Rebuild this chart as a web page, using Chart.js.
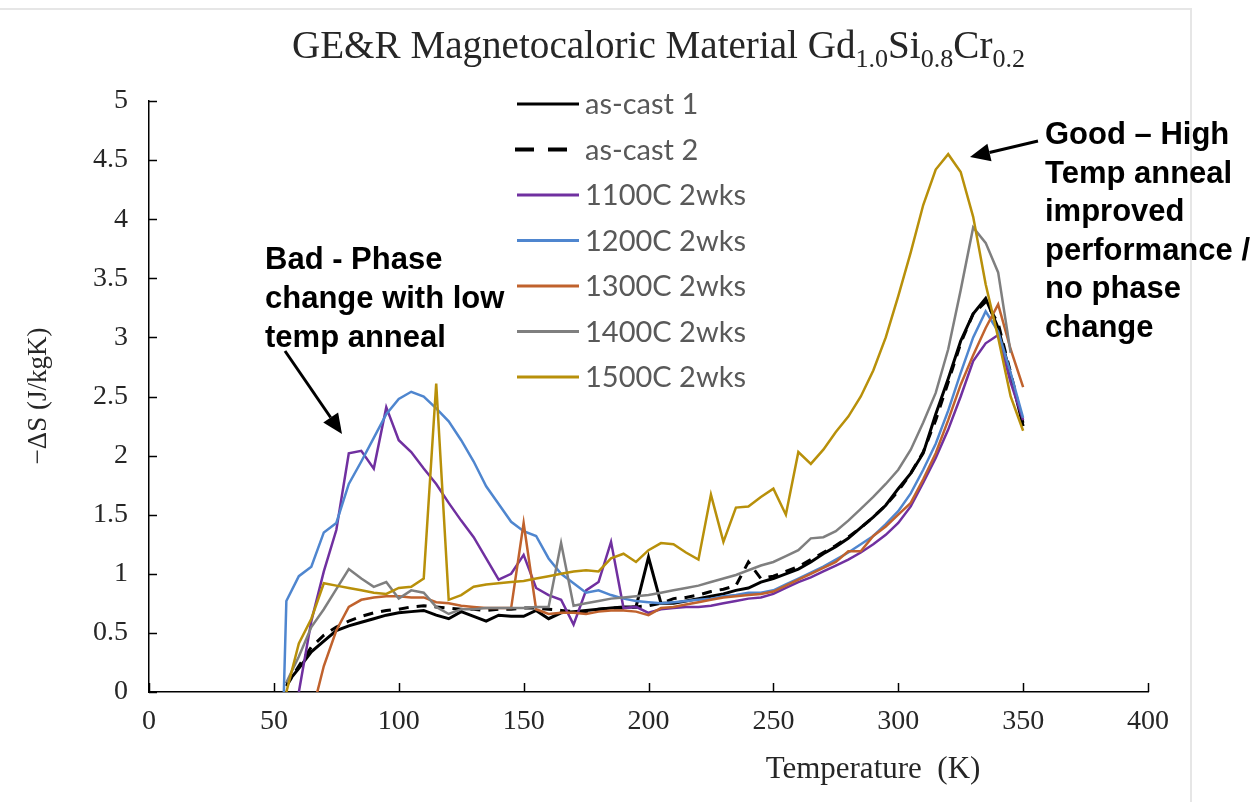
<!DOCTYPE html>
<html>
<head>
<meta charset="utf-8">
<script src="https://cdn.jsdelivr.net/npm/chart.js@4.4.0/dist/chart.umd.min.js"></script>
<style>
  html, body { margin: 0; padding: 0; background: #fff; }
  #wrap { position: relative; width: 1257px; height: 802px; }
  #frame { position: absolute; left: 0; top: 8px; width: 1192px; height: 794px; box-sizing: border-box;
           border-top: 2px solid #e6e6e6; border-right: 2px solid #e6e6e6; }
  canvas { position: absolute; left: 0; top: 0; }
</style>
</head>
<body>
<div id="wrap">
  <div id="frame"></div>
  <canvas id="mcChart" width="1257" height="802"></canvas>
</div>
<script>
// temperatures (K)
const temps = [54, 55, 60, 65, 70, 75, 80, 85, 90, 95,
  100, 105, 110, 115, 120, 125, 130, 135, 140, 145,
  150, 155, 160, 165, 170, 175, 180, 185, 190, 195,
  200, 205, 210, 215, 220, 225, 230, 235, 240, 245,
  250, 255, 260, 265, 270, 275, 280, 285, 290, 295,
  300, 305, 310, 315, 320, 325, 330, 335, 340, 345,
  350]

// -dS (J/kgK), same order as temps
const asCast1 = [null, 0.07, 0.2, 0.34, 0.43, 0.52, 0.56, 0.59, 0.62, 0.65,
  0.67, 0.68, 0.69, 0.65, 0.62, 0.68, 0.64, 0.6, 0.65, 0.64,
  0.64, 0.69, 0.62, 0.67, 0.68, 0.69, 0.7, 0.71, 0.72, 0.72,
  1.14, 0.75, 0.75, 0.77, 0.79, 0.81, 0.83, 0.86, 0.88, 0.93,
  0.96, 1.0, 1.04, 1.1, 1.17, 1.23, 1.3, 1.39, 1.48, 1.58,
  1.72, 1.85, 2.02, 2.35, 2.65, 2.97, 3.2, 3.33, 3.08, 2.68,
  2.25]
const asCast2 = [null, 0.05, 0.22, 0.38, 0.48, 0.55, 0.6, 0.64, 0.67, 0.69,
  0.7, 0.72, 0.73, 0.72, 0.71, 0.7, 0.7, 0.69, 0.7, 0.7,
  0.71, 0.71, 0.7, 0.69, 0.68, 0.68, 0.7, 0.71, 0.71, 0.72,
  0.73, 0.75, 0.79, 0.8, 0.82, 0.85, 0.87, 0.9, 1.1, 0.96,
  0.98, 1.02, 1.06, 1.12, 1.18, 1.24, 1.31, 1.39, 1.48, 1.58,
  1.7, 1.85, 2.03, 2.3, 2.62, 2.95, 3.2, 3.3, 3.12, 2.7,
  2.27]
const anneal1100 = [null, null, 0, 0.6, 1.02, 1.37, 2.02, 2.04, 1.89, 2.41,
  2.13, 2.03, 1.89, 1.76, 1.6, 1.45, 1.31, 1.13, 0.95, 1.0,
  1.16, 0.88, 0.82, 0.78, 0.57, 0.86, 0.93, 1.27, 0.71, 0.72,
  0.67, 0.7, 0.71, 0.72, 0.72, 0.73, 0.75, 0.77, 0.79, 0.8,
  0.83, 0.88, 0.93, 0.97, 1.02, 1.07, 1.12, 1.18, 1.25, 1.33,
  1.43, 1.57, 1.77, 1.98, 2.22, 2.5, 2.8, 2.95, 3.02, 2.62,
  2.3]
const anneal1200 = [0, 0.77, 0.98, 1.06, 1.35, 1.43, 1.76, 1.95, 2.15, 2.35,
  2.48, 2.54, 2.5, 2.4, 2.29, 2.13, 1.95, 1.74, 1.59, 1.44,
  1.36, 1.32, 1.13, 1.0, 0.92, 0.84, 0.86, 0.82, 0.79, 0.77,
  0.76, 0.75, 0.76, 0.77, 0.78, 0.79, 0.81, 0.82, 0.84, 0.84,
  0.86, 0.91, 0.96, 1.01, 1.06, 1.12, 1.18, 1.25, 1.32, 1.42,
  1.53, 1.68, 1.88, 2.1, 2.38, 2.7, 3.0, 3.22, 3.05, 2.7,
  2.32]
const anneal1300 = [null, null, null, -0.2, 0.22, 0.52, 0.72, 0.78, 0.8, 0.81,
  0.81, 0.8, 0.8, 0.76, 0.75, 0.73, 0.72, 0.71, 0.71, 0.71,
  1.43, 0.7, 0.66, 0.67, 0.67, 0.66, 0.68, 0.69, 0.69, 0.68,
  0.65, 0.71, 0.72, 0.74, 0.76, 0.78, 0.8, 0.81, 0.82, 0.83,
  0.85, 0.9, 0.95, 1.0, 1.05, 1.1, 1.19, 1.19, 1.32, 1.4,
  1.5, 1.6, 1.8, 2.02, 2.3, 2.6, 2.85, 3.08, 3.28, 2.9,
  2.58]
const anneal1400 = [null, 0.08, 0.3, 0.55, 0.7, 0.87, 1.04, 0.96, 0.89, 0.93,
  0.79, 0.86, 0.84, 0.72, 0.66, 0.7, 0.7, 0.71, 0.71, 0.71,
  0.71, 0.72, 0.72, 1.26, 0.73, 0.75, 0.77, 0.79, 0.8, 0.81,
  0.82, 0.84, 0.86, 0.88, 0.9, 0.93, 0.96, 0.99, 1.03, 1.07,
  1.1, 1.15, 1.2, 1.3, 1.31, 1.36, 1.45, 1.55, 1.65, 1.76,
  1.88, 2.05, 2.28, 2.53, 2.9, 3.4, 3.93, 3.8, 3.55, 2.87,
  null]
const anneal1500 = [null, 0, 0.41, 0.62, 0.92, 0.9, 0.88, 0.86, 0.84, 0.83,
  0.88, 0.89, 0.96, 2.61, 0.78, 0.82, 0.89, 0.91, 0.92, 0.93,
  0.94, 0.96, 0.98, 1.0, 1.02, 1.03, 1.02, 1.13, 1.17, 1.1,
  1.2, 1.26, 1.25, 1.18, 1.12, 1.67, 1.27, 1.56, 1.57, 1.65,
  1.72, 1.5, 2.03, 1.93, 2.05, 2.2, 2.33, 2.5, 2.72, 3.0,
  3.35, 3.72, 4.12, 4.42, 4.55, 4.4, 4.02, 3.45, 3.0, 2.5,
  2.21]

const seriesNames = ["as-cast 1", "as-cast 2", "1100C 2wks", "1200C 2wks", "1300C 2wks", "1400C 2wks", "1500C 2wks"]
const seriesValues = [asCast1, asCast2, anneal1100, anneal1200, anneal1300, anneal1400, anneal1500]
const seriesColors = ["#000000", "#000000", "#7030a0", "#4f86cf", "#c0622d", "#7f7f7f", "#b8900a"]

const titleParts = [["GE&R Magnetocaloric Material Gd", false], ["1.0", true], ["Si", false], ["0.8", true], ["Cr", false], ["0.2", true]]
const xTitle = "Temperature  (K)"
const yTitle = "\u2212\u0394S (J/kgK)"
const badNote = ["Bad - Phase", "change with low", "temp anneal"]
const goodNote = ["Good \u2013 High", "Temp anneal", "improved", "performance /", "no phase", "change"]

const serif = "'Liberation Serif', 'Times New Roman', serif"

function arrow(ctx, x1, y1, x2, y2) {
  const a = Math.atan2(y2 - y1, x2 - x1)
  const len = 20, half = 9
  const bx = x2 - len * Math.cos(a), by = y2 - len * Math.sin(a)
  ctx.beginPath()
  ctx.moveTo(x1, y1)
  ctx.lineTo(bx, by)
  ctx.stroke()
  ctx.beginPath()
  ctx.moveTo(x2, y2)
  ctx.lineTo(bx + half * Math.sin(a), by - half * Math.cos(a))
  ctx.lineTo(bx - half * Math.sin(a), by + half * Math.cos(a))
  ctx.closePath()
  ctx.fill()
}

const overlay = {
  id: "overlay",
  afterDraw(chart) {
    const ctx = chart.ctx
    const { left, bottom } = chart.chartArea
    const xs = chart.scales.x, ys = chart.scales.y
    ctx.save()

    // tick marks point inward
    ctx.strokeStyle = "#000"
    ctx.lineWidth = 1.5
    xs.ticks.forEach(t => {
      const px = Math.round(xs.getPixelForValue(t.value)) + 0.5
      ctx.beginPath(); ctx.moveTo(px, bottom); ctx.lineTo(px, bottom - 9); ctx.stroke()
    })
    ys.ticks.forEach(t => {
      const py = Math.round(ys.getPixelForValue(t.value)) + 0.5
      ctx.beginPath(); ctx.moveTo(left, py); ctx.lineTo(left + 8, py); ctx.stroke()
    })

    // title with subscripts, squeezed to the width of the original
    ctx.fillStyle = "#262626"
    ctx.textBaseline = "alphabetic"
    ctx.textAlign = "left"
    const bigFont = "39px " + serif, subFont = "26px " + serif
    let total = 0
    titleParts.forEach(([s, sub]) => { ctx.font = sub ? subFont : bigFont; total += ctx.measureText(s).width })
    ctx.save()
    ctx.translate(292, 0)
    ctx.scale(733 / total, 1)
    let cx = 0
    titleParts.forEach(([s, sub]) => {
      ctx.font = sub ? subFont : bigFont
      ctx.fillText(s, cx, sub ? 67 : 58)
      cx += ctx.measureText(s).width
    })
    ctx.restore()

    // axis titles
    ctx.font = "31px " + serif
    ctx.textAlign = "center"
    ctx.fillText(xTitle, 873, 778)
    ctx.save()
    ctx.translate(46, 396)
    ctx.rotate(-Math.PI / 2)
    ctx.font = "27px " + serif
    ctx.fillText(yTitle, 0, 0)
    ctx.restore()

    // legend inside the plot
    ctx.textAlign = "left"
    ctx.textBaseline = "middle"
    ctx.font = "29px Lato, 'Open Sans', sans-serif"
    chart.data.datasets.forEach((ds, i) => {
      const ry = 104 + i * 45.5
      ctx.strokeStyle = ds.borderColor
      ctx.lineWidth = ds.borderDash.length ? 4 : 3
      ctx.setLineDash(ds.borderDash.length ? [19, 14] : [])
      ctx.beginPath(); ctx.moveTo(ds.borderDash.length ? 515 : 517, ry); ctx.lineTo(579, ry); ctx.stroke()
      ctx.setLineDash([])
      ctx.fillStyle = "#595959"
      ctx.fillText(ds.label, 585, ry + 1)
    })

    // notes and arrows
    ctx.fillStyle = "#000"
    ctx.strokeStyle = "#000"
    ctx.lineWidth = 3
    ctx.textBaseline = "alphabetic"
    ctx.font = "bold 31px 'Liberation Sans', Arial, sans-serif"
    badNote.forEach((s, i) => ctx.fillText(s, 265, 269 + i * 39))
    goodNote.forEach((s, i) => ctx.fillText(s, 1045, 144 + i * 38.5))
    arrow(ctx, 285, 351, 342, 434)
    arrow(ctx, 1038, 141, 970, 157)

    ctx.restore()
  }
}

const datasets = seriesNames.map((name, i) => ({
  label: name,
  data: temps.map((t, k) => ({ x: t, y: seriesValues[i][k] })),
  borderColor: seriesColors[i],
  borderWidth: i < 2 ? 3 : 2.5,
  borderDash: i === 1 ? [10, 8] : [],
  pointRadius: 0,
  tension: 0,
  fill: false,
  order: seriesNames.length - i
}))

new Chart(document.getElementById("mcChart"), {
  type: "line",
  data: { datasets },
  options: {
    responsive: false,
    devicePixelRatio: 1,
    animation: false,
    layout: { padding: { top: 101, right: 109, left: 0, bottom: 0 } },
    plugins: { legend: { display: false }, tooltip: { enabled: false } },
    scales: {
      x: {
        type: "linear",
        min: 0,
        max: 400,
        afterFit: s => { s.height = 110 },
        border: { display: true, color: "#000", width: 1.5 },
        grid: { display: true, drawOnChartArea: false, drawTicks: false },
        ticks: { stepSize: 50, padding: 13, color: "#262626", font: { family: serif, size: 28 } }
      },
      y: {
        min: 0,
        max: 5,
        afterFit: s => { s.width = 149 },
        border: { display: true, color: "#000", width: 1.5 },
        grid: { display: true, drawOnChartArea: false, drawTicks: false },
        ticks: { stepSize: 0.5, padding: 21, color: "#262626", font: { family: serif, size: 28 },
                 callback: v => String(v) }
      }
    }
  },
  plugins: [overlay]
})
</script>
</body>
</html>
